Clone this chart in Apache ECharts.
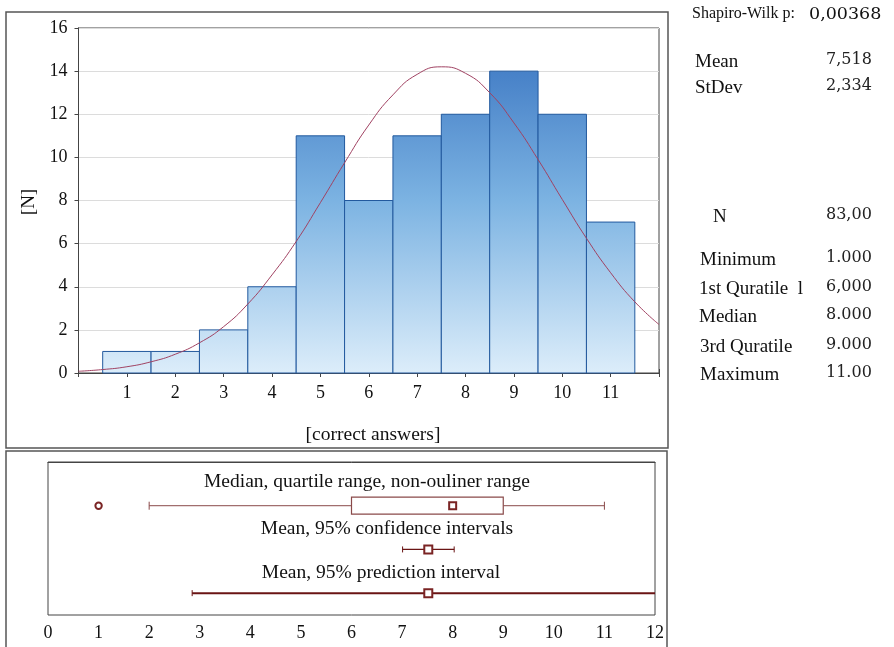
<!DOCTYPE html>
<html>
<head>
<meta charset="utf-8">
<script src="https://cdn.jsdelivr.net/npm/echarts@6/dist/echarts.min.js"></script>
<style>
  html, body { margin: 0; background: #fff; }
  #chart { width: 894px; height: 647px; }
</style>
</head>
<body>
<div id="chart"></div>
<script>
// histogram bins (correct answers) and counts
const binCenters = [1, 2, 3, 4, 5, 6, 7, 8, 9, 10, 11]
const counts = [1, 1, 2, 4, 11, 8, 11, 12, 14, 12, 7]

// fitted normal curve
const curveX = [0, 0.5, 1, 1.5, 2, 2.5, 3, 3.5, 4, 4.5, 5, 5.5, 6, 6.5, 7, 7.5, 8, 8.5, 9, 9.5, 10, 10.5, 11, 11.5, 12]
const curveY = [0.08, 0.16, 0.29, 0.52, 0.87, 1.4, 2.15, 3.2, 4.55, 6.1, 7.9, 9.75, 11.5, 12.9, 13.85, 14.2, 13.9, 13.0, 11.6, 9.9, 8.05, 6.25, 4.65, 3.3, 2.25]

// box plot & intervals
const whiskers = [2, 11]
const quartiles = [6, 9]
const median = 8
const outliers = [1]
const mean = 7.518
const confInterval = [7.01, 8.03]
const predInterval = [2.85, 12.19]
const rowLabels = ['Median, quartile range, non-ouliner range', 'Mean, 95% confidence intervals', 'Mean, 95% prediction interval']

// stats panel
const statNames = ['Mean', 'StDev', 'N', 'Minimum', '1st Quratile  l', 'Median', '3rd Quratile', 'Maximum']
const statValues = ['7,518', '2,334', '83,00', '1.000', '6,000', '8.000', '9.000', '11.00']
const shapiro = ['Shapiro-Wilk p:', '0,00368']

const serif = 'Liberation Serif'
const dark = '#444'
const red = '#7a2424'

const chart = echarts.init(document.getElementById('chart'))

function barItem(params, api) {
  const x = api.value(0)
  const y = api.value(1)
  const p0 = api.coord([x - 0.5, 0])
  const p1 = api.coord([x + 0.5, y])
  const top = api.coord([0, 16])[1]
  const bottom = api.coord([0, 0])[1]
  return {
    type: 'rect',
    shape: { x: p0[0], y: p1[1], width: p1[0] - p0[0], height: p0[1] - p1[1] },
    style: {
      fill: new echarts.graphic.LinearGradient(0, top, 0, bottom, [
        { offset: 0, color: '#3570bf' },
        { offset: 0.5, color: '#7cb3e2' },
        { offset: 1, color: '#dcedfa' }
      ], true),
      stroke: '#22599e',
      lineWidth: 1
    }
  }
}

function marker(c, size) {
  return { type: 'rect', shape: { x: c[0] - size / 2, y: c[1] - size / 2, width: size, height: size },
    style: { fill: '#fff', stroke: red, lineWidth: 2 } }
}

function intervalItem(params, api) {
  const row = api.value(0)
  const children = []
  if (row === 2) {
    const wl = api.coord([whiskers[0], row])
    const wr = api.coord([whiskers[1], row])
    const ql = api.coord([quartiles[0], row])
    const qr = api.coord([quartiles[1], row])
    const h = 17
    children.push(
      { type: 'line', shape: { x1: wl[0], y1: wl[1], x2: ql[0], y2: ql[1] }, style: { stroke: '#8a4a4a', lineWidth: 1 } },
      { type: 'line', shape: { x1: qr[0], y1: qr[1], x2: wr[0], y2: wr[1] }, style: { stroke: '#8a4a4a', lineWidth: 1 } },
      { type: 'line', shape: { x1: wl[0], y1: wl[1] - 4, x2: wl[0], y2: wl[1] + 4 }, style: { stroke: '#8a4a4a', lineWidth: 1 } },
      { type: 'line', shape: { x1: wr[0], y1: wr[1] - 4, x2: wr[0], y2: wr[1] + 4 }, style: { stroke: '#8a4a4a', lineWidth: 1 } },
      { type: 'rect', shape: { x: ql[0], y: ql[1] - h / 2, width: qr[0] - ql[0], height: h }, style: { fill: '#fff', stroke: '#8a4a4a', lineWidth: 1.2 } },
      marker(api.coord([median, row]), 7)
    )
    outliers.forEach(o => {
      const c = api.coord([o, row])
      children.push({ type: 'circle', shape: { cx: c[0], cy: c[1], r: 3.2 }, style: { fill: '#fff', stroke: red, lineWidth: 2 } })
    })
  } else {
    const iv = row === 4 ? confInterval : predInterval
    const l = api.coord([iv[0], row])
    const r = api.coord([Math.min(iv[1], 12), row])
    const lw = row === 4 ? 1.2 : 2
    children.push(
      { type: 'line', shape: { x1: l[0], y1: l[1], x2: r[0], y2: r[1] }, style: { stroke: '#6a1414', lineWidth: lw } },
      { type: 'line', shape: { x1: l[0], y1: l[1] - 3, x2: l[0], y2: l[1] + 3 }, style: { stroke: '#6a1414', lineWidth: 1 } }
    )
    if (iv[1] <= 12) {
      children.push({ type: 'line', shape: { x1: r[0], y1: r[1] - 3, x2: r[0], y2: r[1] + 3 }, style: { stroke: '#6a1414', lineWidth: 1 } })
    }
    children.push(marker(api.coord([mean, row]), 8))
  }
  return { type: 'group', children }
}

const graphics = [
  { type: 'rect', shape: { x: 6, y: 12, width: 662, height: 436 }, style: { fill: 'none', stroke: '#555', lineWidth: 1.5 } },
  { type: 'rect', shape: { x: 6, y: 451, width: 661, height: 210 }, style: { fill: 'none', stroke: '#555', lineWidth: 1.5 } },
  { type: 'text', x: 373, y: 435, style: { text: '[correct answers]', font: '19.5px ' + serif, fill: '#111', align: 'center', verticalAlign: 'middle' } },
  { type: 'text', x: 29, y: 202, rotation: Math.PI / 2, style: { text: '[N]', font: '19px ' + serif, fill: '#111', align: 'center', verticalAlign: 'middle' } },
  { type: 'text', x: 692, y: 14, style: { text: shapiro[0], font: '16px ' + serif, fill: '#111', verticalAlign: 'middle' } },
  { type: 'text', x: 809, y: 14, style: { text: shapiro[1], font: '17.5px DejaVu Serif', fill: '#111', verticalAlign: 'middle' } }
]

const rowLabelPos = [[367, 482], [387, 529], [381, 573]]
rowLabels.forEach((t, i) => {
  graphics.push({ type: 'text', x: rowLabelPos[i][0], y: rowLabelPos[i][1],
    style: { text: t, font: '19.5px ' + serif, fill: '#111', align: 'center', verticalAlign: 'middle' } })
})

const statNameX = [695, 695, 713, 700, 699, 699, 700, 700]
const statY = [62, 88, 217, 260, 289, 317, 347, 375]
statNames.forEach((t, i) => {
  graphics.push({ type: 'text', x: statNameX[i], y: statY[i], style: { text: t, font: '19px ' + serif, fill: '#111', verticalAlign: 'middle' } })
  graphics.push({ type: 'text', x: 826, y: statY[i] - 2, style: { text: statValues[i], font: '16px DejaVu Serif', fill: '#222', verticalAlign: 'middle' } })
})

const axisFont = { fontFamily: serif, fontSize: 18, color: '#111' }

chart.setOption({
  animation: false,
  grid: [
    { left: 78.5, top: 28, width: 580.5, height: 345, show: true, borderColor: dark, borderWidth: 1 },
    { left: 48, top: 462, width: 607, height: 153, show: true, borderColor: dark, borderWidth: 1 }
  ],
  xAxis: [
    {
      gridIndex: 0, type: 'value', min: 0, max: 12, interval: 1,
      axisLine: { lineStyle: { color: dark } },
      axisTick: { inside: true, length: 4, lineStyle: { color: dark } },
      axisLabel: { ...axisFont, margin: 11, formatter: v => (v === 0 || v === 12) ? '' : v },
      splitLine: { show: false }
    },
    {
      gridIndex: 0, type: 'value', position: 'top', min: 0, max: 12, interval: 1,
      axisLine: { lineStyle: { color: dark } },
      axisTick: { inside: true, length: 4, lineStyle: { color: dark } },
      axisLabel: { show: false }, splitLine: { show: false }
    },
    {
      gridIndex: 1, type: 'value', min: 0, max: 12, interval: 1,
      axisLine: { lineStyle: { color: dark } },
      axisTick: { show: false },
      axisLabel: { ...axisFont, margin: 9 },
      splitLine: { show: false }
    }
  ],
  yAxis: [
    {
      gridIndex: 0, type: 'value', min: 0, max: 16, interval: 2,
      axisLine: { show: true, lineStyle: { color: dark } },
      axisTick: { show: true, length: 3, lineStyle: { color: dark } },
      axisLabel: { ...axisFont, margin: 11 },
      splitLine: { lineStyle: { color: '#dcdcdc' } }
    },
    {
      gridIndex: 0, type: 'value', position: 'right', min: 0, max: 16, interval: 2,
      axisLine: { show: true, lineStyle: { color: dark } },
      axisTick: { show: true, inside: true, length: 4, lineStyle: { color: dark } },
      axisLabel: { show: false }, splitLine: { show: false }
    },
    {
      gridIndex: 1, type: 'value', min: 0, max: 7, inverse: true, show: false
    }
  ],
  graphic: graphics,
  series: [
    {
      type: 'custom', xAxisIndex: 0, yAxisIndex: 0,
      renderItem: barItem,
      data: binCenters.map((x, i) => [x, counts[i]])
    },
    {
      type: 'line', xAxisIndex: 0, yAxisIndex: 0, smooth: true, showSymbol: false,
      lineStyle: { color: '#a04262', width: 1 },
      data: curveX.map((x, i) => [x, curveY[i]])
    },
    {
      type: 'custom', xAxisIndex: 2, yAxisIndex: 2, clip: true,
      renderItem: intervalItem,
      data: [[2], [4], [6]]
    }
  ]
})
</script>
</body>
</html>
